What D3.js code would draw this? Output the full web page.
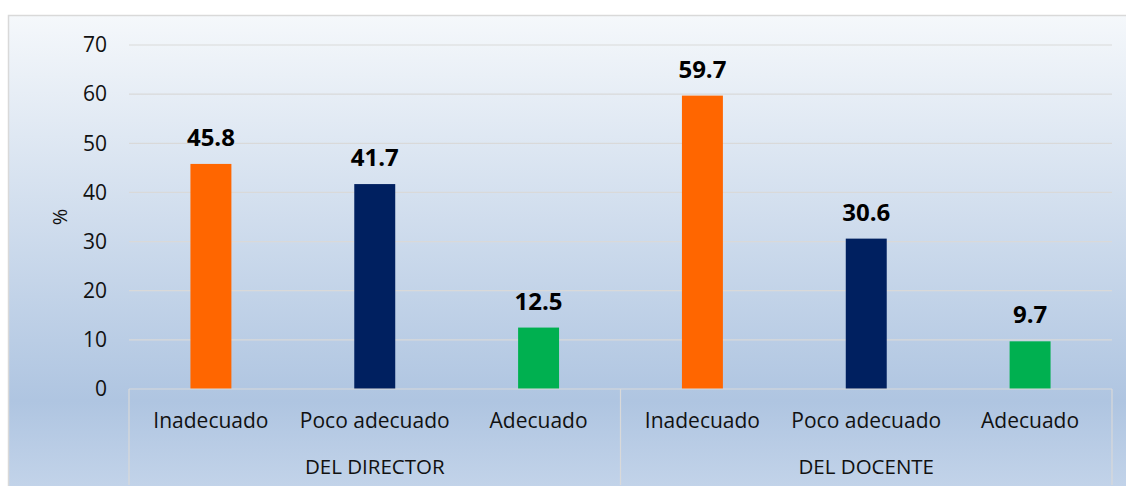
<!DOCTYPE html>
<html>
<head>
<meta charset="utf-8">
<script src="https://cdn.jsdelivr.net/npm/d3@7"></script>
<style>
  body { margin: 0; background: #fff; overflow: hidden; }
  svg { display: block; font-family: "Open Sans", "Noto Sans", sans-serif; }
</style>
</head>
<body>
<div id="chart"></div>
<script>
// data
const groups = ['DEL DIRECTOR', 'DEL DOCENTE'];
const levels = ['Inadecuado', 'Poco adecuado', 'Adecuado'];
const directorValues = [45.8, 41.7, 12.5];
const docenteValues = [59.7, 30.6, 9.7];
const levelColors = ['#ff6600', '#002060', '#00b050'];
const yTicks = [0, 10, 20, 30, 40, 50, 60, 70];

const width = 1126, height = 486;
const margin = { top: 45, right: 14, bottom: 97, left: 129 };
const innerWidth = width - margin.left - margin.right;
const innerHeight = height - margin.top - margin.bottom;

const rows = [];
groups.forEach((g, gi) => {
  const vals = gi === 0 ? directorValues : docenteValues;
  levels.forEach((l, li) => rows.push({ group: g, level: l, key: g + '|' + l, value: vals[li], color: levelColors[li] }));
});

const svg = d3.select('#chart').append('svg')
  .attr('width', width)
  .attr('height', height);

// background gradient
const grad = svg.append('defs').append('linearGradient')
  .attr('id', 'bg').attr('x1', 0).attr('y1', 0).attr('x2', 0).attr('y2', 1);
grad.append('stop').attr('offset', '0%').attr('stop-color', '#f5f8fb');
grad.append('stop').attr('offset', '82%').attr('stop-color', '#afc5e1');
grad.append('stop').attr('offset', '100%').attr('stop-color', '#c2d3e9');

svg.append('rect')
  .attr('x', 8).attr('y', 15)
  .attr('width', width - 8).attr('height', height - 15)
  .attr('fill', 'url(#bg)');

// chart border (top and left only, rest runs off the picture)
svg.append('path')
  .attr('d', `M8.5,${height}V15.5H${width}`)
  .attr('fill', 'none')
  .attr('stroke', '#d9d9d9')
  .attr('stroke-width', 1.5);

const g = svg.append('g').attr('transform', `translate(${margin.left},${margin.top})`);

const x = d3.scaleBand()
  .domain(rows.map(d => d.key))
  .range([0, innerWidth])
  .paddingInner(0.75)
  .paddingOuter(0.375);

const y = d3.scaleLinear()
  .domain([0, 70])
  .range([innerHeight, 0]);

// gridlines
g.append('g')
  .selectAll('line')
  .data(yTicks.filter(t => t > 0))
  .enter().append('line')
  .attr('x1', 0).attr('x2', innerWidth)
  .attr('y1', d => y(d)).attr('y2', d => y(d))
  .attr('stroke', '#d9d9d9')
  .attr('stroke-width', 1.2);

// y axis
const yAxis = g.append('g')
  .call(d3.axisLeft(y).tickValues(yTicks).tickSize(0).tickPadding(22));
yAxis.select('.domain').remove();
yAxis.selectAll('text')
  .attr('font-size', '21px')
  .attr('fill', '#111')
  .attr('font-family', '"Open Sans", sans-serif');

g.append('text')
  .attr('transform', 'rotate(-90)')
  .attr('x', -(y(35)))
  .attr('y', -margin.left + 67)
  .attr('text-anchor', 'middle')
  .attr('font-size', '20px')
  .attr('fill', '#111')
  .text('%');

// bars
g.selectAll('.bar')
  .data(rows)
  .enter().append('rect')
  .attr('class', 'bar')
  .attr('x', d => x(d.key))
  .attr('y', d => y(d.value))
  .attr('width', x.bandwidth())
  .attr('height', d => innerHeight - y(d.value))
  .attr('fill', d => d.color);

// value labels
g.selectAll('.val')
  .data(rows)
  .enter().append('text')
  .attr('class', 'val')
  .attr('x', d => x(d.key) + x.bandwidth() / 2)
  .attr('y', d => y(d.value) - 18)
  .attr('text-anchor', 'middle')
  .attr('font-size', '24px')
  .attr('font-weight', 'bold')
  .attr('fill', '#000')
  .text(d => d.value.toFixed(1));

// category axis
g.append('line')
  .attr('x1', 0).attr('x2', innerWidth)
  .attr('y1', innerHeight).attr('y2', innerHeight)
  .attr('stroke', '#d9d9d9').attr('stroke-width', 1.2);

const groupWidth = innerWidth / groups.length;
g.selectAll('.sep')
  .data(d3.range(groups.length + 1))
  .enter().append('line')
  .attr('x1', i => i * groupWidth).attr('x2', i => i * groupWidth)
  .attr('y1', innerHeight).attr('y2', innerHeight + 96)
  .attr('stroke', '#d9d9d9').attr('stroke-width', 1.2);

g.selectAll('.cat')
  .data(rows)
  .enter().append('text')
  .attr('x', d => x(d.key) + x.bandwidth() / 2)
  .attr('y', innerHeight + 39)
  .attr('text-anchor', 'middle')
  .attr('font-size', '21px')
  .attr('fill', '#111')
  .text(d => d.level);

g.selectAll('.grp')
  .data(groups)
  .enter().append('text')
  .attr('x', (d, i) => (i + 0.5) * groupWidth)
  .attr('y', innerHeight + 85)
  .attr('text-anchor', 'middle')
  .attr('font-size', '20.5px')
  .attr('fill', '#111')
  .text(d => d);
</script>
</body>
</html>
